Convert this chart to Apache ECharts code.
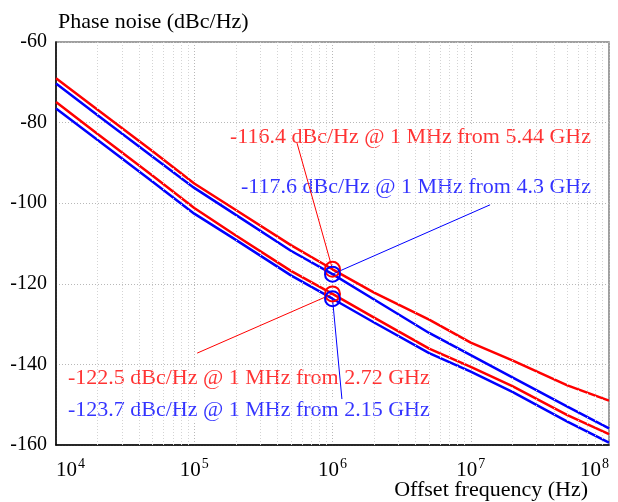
<!DOCTYPE html>
<html>
<head>
<meta charset="utf-8">
<script src="https://cdn.jsdelivr.net/npm/echarts@6/dist/echarts.min.js"></script>
<style>
html, body { margin: 0; padding: 0; background: #fff; }
#chart { width: 618px; height: 502px; }
</style>
</head>
<body>
<div id="chart"></div>
<script>
// offset frequencies (Hz) and phase noise readings (dBc/Hz)
let freqs = [1e4, 2e4, 5e4, 1e5, 2e5, 5e5, 1e6, 2e6, 5e6, 1e7, 2e7, 5e7, 1e8];
let pn544 = [-69.0, -76.8, -87.1, -95.1, -101.7, -110.4, -116.4, -122.2, -128.9, -134.6, -139.0, -145.2, -149.0];
let pn43 = [-70.3, -78.2, -88.5, -96.2, -102.9, -111.8, -117.6, -123.9, -132.2, -137.7, -143.2, -150.5, -155.9];
let pn272 = [-74.9, -82.8, -93.2, -101.2, -108.0, -116.8, -122.5, -128.4, -136.1, -140.6, -145.4, -152.6, -157.3];
let pn215 = [-76.5, -84.3, -94.7, -102.6, -109.1, -117.9, -123.7, -129.6, -137.2, -141.8, -146.8, -154.2, -159.4];

// spot values at 1 MHz
let spotFreq = 1e6;
let spots = [-116.4, -117.6, -122.5, -123.7];
let noteTexts = [
    '-116.4 dBc/Hz @ 1 MHz from 5.44 GHz',
    '-117.6 dBc/Hz @ 1 MHz from 4.3 GHz',
    '-122.5 dBc/Hz @ 1 MHz from 2.72 GHz',
    '-123.7 dBc/Hz @ 1 MHz from 2.15 GHz'
];
let notePos = [[7.66e7, -83.6], [7.66e7, -96.0], [1.18e4, -143.4], [1.18e4, -151.3]];
let noteAlign = ['right', 'right', 'left', 'left'];
let leaderEnds = [[5.54e5, -85.1], [1.38e7, -100.4], [1.05e5, -137.2], [1.17e6, -148.6]];

let decades = [1e4, 1e5, 1e6, 1e7];
let minorSteps = [2, 3, 4, 5, 6, 7, 8, 9];

let serif = 'Liberation Serif';
let red = '#ff0000';
let blue = '#0000ff';

let minorFreqs = [];
decades.forEach(function (d) {
    minorSteps.forEach(function (m) { minorFreqs.push(d * m); });
});

function curve(name, vals, color, idx) {
    return {
        name: name,
        type: 'line',
        data: freqs.map(function (f, j) { return [f, vals[j]]; }),
        symbol: 'none',
        lineStyle: { color: color, width: 2.5 },
        itemStyle: { color: color },
        z: 3,
        markPoint: {
            symbol: 'circle',
            symbolSize: 15,
            silent: true,
            itemStyle: { color: 'rgba(0,0,0,0)', borderColor: color, borderWidth: 2 },
            label: { show: false },
            data: [{ coord: [spotFreq, spots[idx]] }]
        },
        markLine: {
            symbol: 'none',
            silent: true,
            label: { show: false },
            lineStyle: { color: color, width: 1, type: 'solid' },
            data: [[{ coord: [spotFreq, spots[idx]] }, { coord: leaderEnds[idx] }]]
        }
    };
}

let colors = [red, blue, red, blue];
let noteData = notePos.map(function (p, i) {
    return {
        value: p,
        label: {
            show: true,
            position: 'inside',
            align: noteAlign[i],
            verticalAlign: 'middle',
            formatter: noteTexts[i],
            color: colors[i],
            fontFamily: serif,
            fontSize: 22,
            backgroundColor: '#fff',
            padding: [0, 2]
        }
    };
});

let chart = echarts.init(document.getElementById('chart'));
let option = {
    animation: false,
    backgroundColor: '#fff',
    grid: {
        left: 56, right: 9, top: 42, bottom: 57,
        outerBoundsMode: 'none',
        containLabel: false,
        show: true, borderColor: '#808080', borderWidth: 1.5
    },
    // x axis title sits under the right part of the axis
    graphic: [{
        type: 'text',
        right: 30,
        top: 479,
        style: { text: 'Offset frequency (Hz)', font: '22px "Liberation Serif"', fill: '#000' }
    }],
    xAxis: {
        type: 'log',
        logBase: 10,
        min: 1e4,
        max: 1e8,
        axisLine: { show: true, lineStyle: { color: '#000', width: 1.5 } },
        axisTick: { show: false },
        splitLine: { show: true, lineStyle: { color: '#b8b8b8', type: [1, 2], width: 1 } },
        axisLabel: {
            margin: 12,
            alignMinLabel: 'left',
            alignMaxLabel: 'right',
            formatter: function (v) {
                return '{b|10}{s|' + Math.round(Math.log10(v)) + '}';
            },
            rich: {
                b: { fontFamily: serif, fontSize: 21, color: '#000' },
                s: { fontFamily: serif, fontSize: 14, color: '#000', padding: [0, 0, 13, 1] }
            }
        }
    },
    yAxis: {
        type: 'value',
        min: -160,
        max: -60,
        interval: 20,
        axisLine: { show: true, lineStyle: { color: '#000', width: 1.5 } },
        axisTick: { show: false },
        splitLine: { show: true, lineStyle: { color: '#b8b8b8', type: [1, 2], width: 1 } },
        axisLabel: { fontFamily: serif, fontSize: 20, color: '#000', margin: 9 },
        name: 'Phase noise (dBc/Hz)',
        nameLocation: 'end',
        nameGap: 9,
        nameTextStyle: {
            fontFamily: serif, fontSize: 22, color: '#000',
            align: 'left', verticalAlign: 'bottom', padding: [0, 0, 0, 2]
        }
    },
    series: [
        {
            name: 'minor',
            type: 'line',
            data: [],
            silent: true,
            markLine: {
                symbol: 'none',
                silent: true,
                label: { show: false },
                lineStyle: { color: '#d4d4d4', type: [1, 2], width: 1 },
                data: minorFreqs.map(function (f) { return { xAxis: f }; })
            }
        },
        curve('5.44 GHz', pn544, red, 0),
        curve('4.3 GHz', pn43, blue, 1),
        curve('2.72 GHz', pn272, red, 2),
        curve('2.15 GHz', pn215, blue, 3),
        {
            name: 'notes',
            type: 'scatter',
            symbolSize: 0,
            silent: true,
            z: 2,
            data: noteData
        }
    ]
};
chart.setOption(option);
</script>
</body>
</html>
